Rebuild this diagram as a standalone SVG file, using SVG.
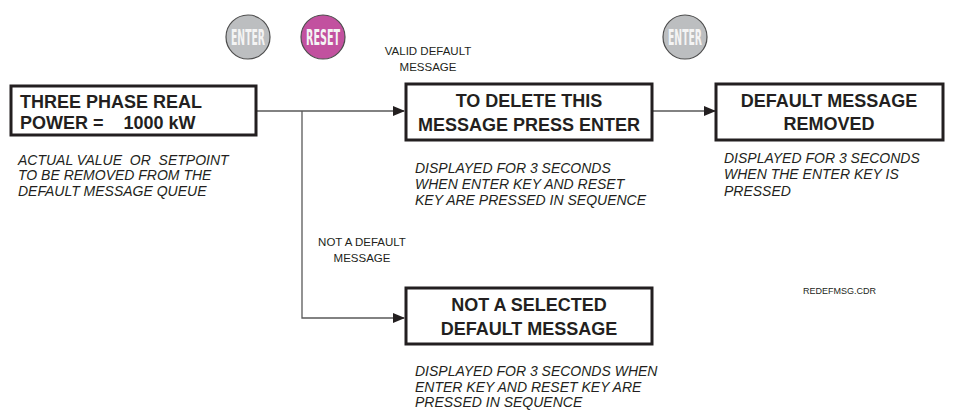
<svg xmlns="http://www.w3.org/2000/svg" width="964" height="410" viewBox="0 0 964 410">
<style>
.box{fill:#fff;stroke:#231f20;stroke-width:3}
.bt{font-family:"Liberation Sans",Arial,sans-serif;font-weight:bold;font-size:18px;fill:#231f20}
.cap{font-family:"Liberation Sans",Arial,sans-serif;font-style:italic;font-size:14px;fill:#231f20}
.lbl{font-family:"Liberation Sans",Arial,sans-serif;font-size:11.5px;fill:#231f20}
.key{stroke:#4d4d4d;stroke-width:1.2}
.kt{font-family:"DejaVu Sans Condensed","Liberation Sans",sans-serif;font-weight:bold;font-size:21px;fill:#f4f4f4;text-anchor:middle}
.ln{fill:none;stroke:#595959;stroke-width:1.3}
</style>
<defs>
<marker id="ah" markerWidth="12" markerHeight="10" refX="11" refY="5" orient="auto" markerUnits="userSpaceOnUse">
<path d="M0,0 L12,5 L0,10 Z" fill="#231f20"/>
</marker>
</defs>
<rect width="964" height="410" fill="#fff"/>
<g id="keys">
<g id="enter1"><circle class="key" cx="248" cy="37" r="22" fill="#bcbec0"/><text class="kt" x="248" y="44.5" textLength="34" lengthAdjust="spacingAndGlyphs">ENTER</text></g>
<g id="reset"><circle class="key" cx="323" cy="37" r="22" fill="#c2519f"/><text class="kt" x="323" y="44.5" textLength="34" lengthAdjust="spacingAndGlyphs">RESET</text></g>
<g id="enter2"><circle class="key" cx="685" cy="37" r="22" fill="#bcbec0"/><text class="kt" x="685" y="44.5" textLength="34" lengthAdjust="spacingAndGlyphs">ENTER</text></g>
</g>
<g id="connectors">
<path class="ln" d="M256,111 H404" marker-end="url(#ah)"/>
<path class="ln" d="M302,111 V318 H404" marker-end="url(#ah)"/>
<path class="ln" d="M652,111 H715" marker-end="url(#ah)"/>
</g>
<g id="labels">
<text class="lbl" x="428" y="55" text-anchor="middle">VALID DEFAULT</text>
<text class="lbl" x="428" y="71" text-anchor="middle">MESSAGE</text>
<text class="lbl" x="362" y="246" text-anchor="middle">NOT A DEFAULT</text>
<text class="lbl" x="362" y="262" text-anchor="middle">MESSAGE</text>
<text class="lbl" x="803" y="294" style="font-size:9px">REDEFMSG.CDR</text>
</g>
<g id="node-power">
<rect class="box" x="11" y="86" width="245" height="49"/>
<text class="bt" x="20" y="108">THREE PHASE REAL</text>
<text class="bt" x="20" y="129" xml:space="preserve">POWER =    1000 kW</text>
<text class="cap" x="18" y="165" xml:space="preserve">ACTUAL VALUE  OR  SETPOINT</text>
<text class="cap" x="18" y="180">TO BE REMOVED FROM THE</text>
<text class="cap" x="18" y="196">DEFAULT MESSAGE QUEUE</text>
</g>
<g id="node-delete">
<rect class="box" x="406" y="84" width="246" height="56"/>
<text class="bt" x="529" y="107" text-anchor="middle">TO DELETE THIS</text>
<text class="bt" x="529" y="131" text-anchor="middle">MESSAGE PRESS ENTER</text>
<text class="cap" x="415" y="173">DISPLAYED FOR 3 SECONDS</text>
<text class="cap" x="415" y="189">WHEN ENTER KEY AND RESET</text>
<text class="cap" x="415" y="205">KEY ARE PRESSED IN SEQUENCE</text>
</g>
<g id="node-removed">
<rect class="box" x="716" y="84" width="227" height="56"/>
<text class="bt" x="829" y="107" text-anchor="middle">DEFAULT MESSAGE</text>
<text class="bt" x="829" y="130" text-anchor="middle">REMOVED</text>
<text class="cap" x="724" y="163">DISPLAYED FOR 3 SECONDS</text>
<text class="cap" x="724" y="179">WHEN THE ENTER KEY IS</text>
<text class="cap" x="724" y="196">PRESSED</text>
</g>
<g id="node-notselected">
<rect class="box" x="406" y="288" width="246" height="56"/>
<text class="bt" x="529" y="311" text-anchor="middle">NOT A SELECTED</text>
<text class="bt" x="529" y="335" text-anchor="middle">DEFAULT MESSAGE</text>
<text class="cap" x="415" y="376">DISPLAYED FOR 3 SECONDS WHEN</text>
<text class="cap" x="415" y="392">ENTER KEY AND RESET KEY ARE</text>
<text class="cap" x="415" y="407">PRESSED IN SEQUENCE</text>
</g>
</svg>
